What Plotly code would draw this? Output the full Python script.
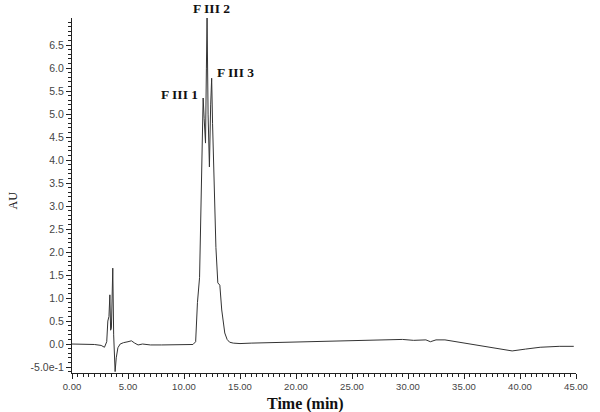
import plotly.graph_objects as go

# chromatogram trace (time in min, absorbance in AU)
time_min = [0.0, 1.0, 2.0, 2.6, 2.9, 3.1, 3.2, 3.3, 3.38, 3.45, 3.52, 3.58, 3.64,
            3.72, 3.85, 3.95, 4.1, 4.3, 4.6, 5.0, 5.3, 5.6, 5.9, 6.3, 7.0, 8.0,
            9.0, 10.0, 10.8, 11.04, 11.2, 11.39, 11.5, 11.6, 11.71, 11.8, 11.92,
            12.0, 12.06, 12.15, 12.27, 12.38, 12.47, 12.55, 12.7, 12.85, 13.02,
            13.2, 13.37, 13.5, 13.64, 13.85, 14.07, 14.4, 15.0, 16.0, 18.0, 20.0,
            22.0, 24.0, 26.0, 28.0, 29.5, 30.5, 31.6, 32.0, 32.5, 33.3, 34.5,
            35.9, 37.5, 39.3, 40.5, 41.8, 43.5, 44.8]
au = [0.0, 0.0, -0.01, -0.03, -0.07, 0.05, 0.5, 0.6, 1.07, 0.3, 0.35, 1.0, 1.65,
      0.2, -0.6, -0.3, -0.08, 0.0, 0.03, 0.05, 0.07, 0.02, -0.02, 0.0, -0.02,
      -0.02, -0.02, -0.02, -0.01, 0.05, 0.9, 1.45, 2.6, 4.0, 5.35, 4.9, 4.37,
      6.0, 7.1, 5.0, 3.85, 5.2, 5.78, 4.8, 3.3, 2.1, 1.33, 1.28, 0.74, 0.45,
      0.24, 0.1, 0.04, 0.02, 0.01, 0.02, 0.03, 0.04, 0.05, 0.06, 0.08, 0.09,
      0.1, 0.08, 0.09, 0.05, 0.09, 0.09, 0.04, -0.02, -0.08, -0.15, -0.11,
      -0.07, -0.05, -0.05]

y_tickvals = [-0.5, 0.0, 0.5, 1.0, 1.5, 2.0, 2.5, 3.0, 3.5, 4.0, 4.5, 5.0, 5.5, 6.0, 6.5]
y_ticktext = ["-5.0e-1", "0.0", "0.5", "1.0", "1.5", "2.0", "2.5", "3.0", "3.5",
              "4.0", "4.5", "5.0", "5.5", "6.0", "6.5"]

peak_labels = ["F III 1", "F III 2", "F III 3"]
peak_label_pos = [(0.214, 0.785), (0.276, 1.026), (0.325, 0.846)]

SERIF = "Liberation Serif"
SANS = "Liberation Sans"

fig = go.Figure()
fig.add_trace(go.Scatter(
    x=time_min, y=au, mode="lines",
    line=dict(color="#333333", width=1),
    showlegend=False, hoverinfo="skip",
))

axis_common = dict(
    showline=True, linecolor="#222222", linewidth=1,
    showgrid=False, zeroline=False,
    ticks="outside", ticklen=5, tickcolor="#222222",
)

fig.update_xaxes(
    range=[0, 45], dtick=5, tick0=0, tickformat=".2f",
    tickfont=dict(family=SANS, size=9.5, color="#444444"),
    minor=dict(dtick=0.5, ticks="outside", ticklen=3, tickcolor="#222222"),
    **axis_common,
)
fig.update_yaxes(
    range=[-0.63, 7.09], tickvals=y_tickvals, ticktext=y_ticktext,
    tickfont=dict(family=SANS, size=10.5, color="#444444"),
    minor=dict(dtick=0.1, tick0=0, ticks="outside", ticklen=3, tickcolor="#222222"),
    **axis_common,
)

for text, (px, py) in zip(peak_labels, peak_label_pos):
    fig.add_annotation(
        text=f"<b>{text}</b>", xref="paper", yref="paper", x=px, y=py,
        xanchor="center", yanchor="middle",
        showarrow=False, font=dict(family=SERIF, size=13.5, color="#111111"),
    )

# axis titles placed by hand to follow the original layout
fig.add_annotation(
    text="<b>Time (min)</b>", xref="paper", yref="paper", x=0.464, y=-0.087,
    xanchor="center", yanchor="middle", showarrow=False,
    font=dict(family=SERIF, size=16, color="#111111"),
)
fig.add_annotation(
    text="AU", xref="paper", yref="paper", x=-0.1165, y=0.487, textangle=-90,
    xanchor="center", yanchor="middle",
    showarrow=False, font=dict(family=SERIF, size=12, color="#111111"),
)

fig.update_layout(
    width=600, height=412,
    margin=dict(l=72, r=13, t=18, b=39),
    plot_bgcolor="white", paper_bgcolor="white",
)

# drop the default page margin so the 600x412 figure sits at the window origin
fig.write_html(
    "out.html",
    config={"displayModeBar": False},
    post_script="document.body.style.margin='0';",
)
